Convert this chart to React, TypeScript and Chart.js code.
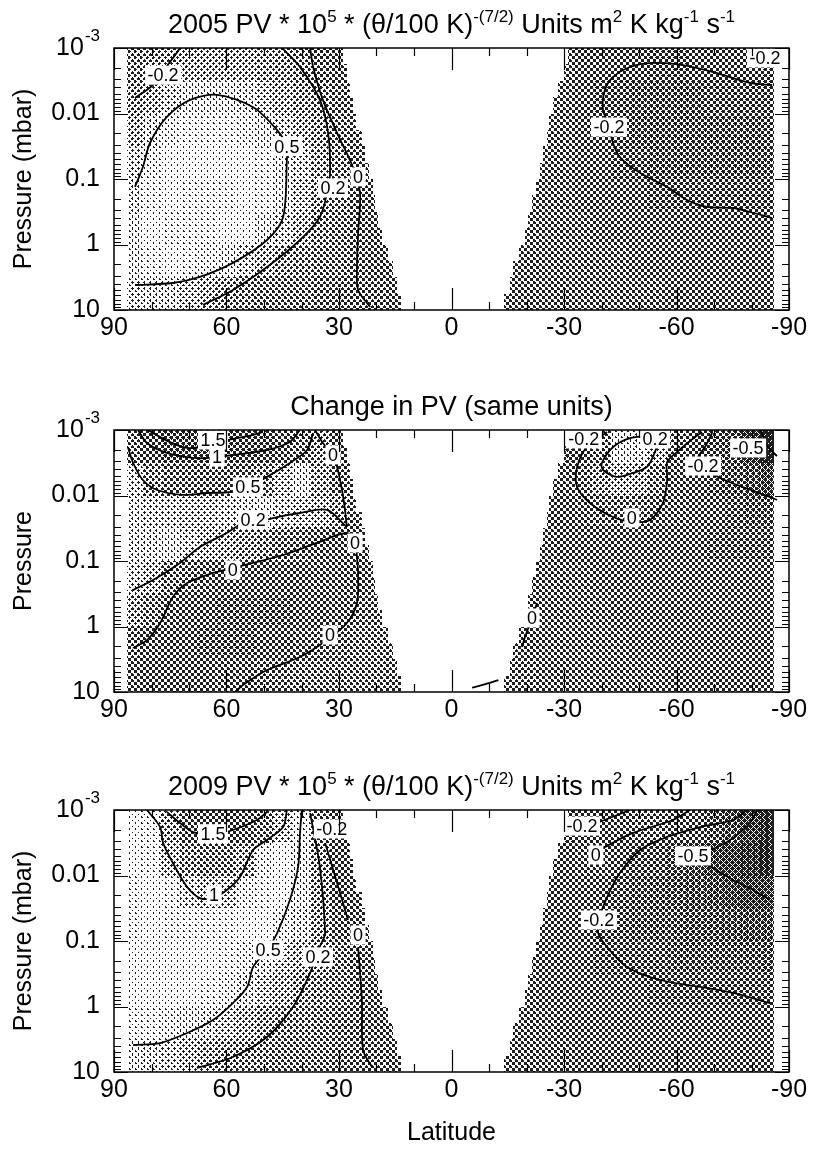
import React, { useEffect, useRef } from 'react';
import { Chart, registerables } from 'chart.js';

Chart.register(...registerables);

const FONT = '"Liberation Sans", Arial, Helvetica, sans-serif';
const W = 813;

// ---------- axes ----------
const LAT_TICKS = [90, 60, 30, 0, -30, -60, -90];
const P_TICKS = [0.001, 0.01, 0.1, 1, 10];
const P_TICK_LABELS = ['10^-3', '0.01', '0.1', '1', '10'];

// ---------- shading grid (5 deg latitude cells, half-decade pressure rows, top row = 0.001-0.0032 mbar) ----------
const CELL_LATS = [85, 80, 75, 70, 65, 60, 55, 50, 45, 40, 35, 30, 25, 20, 15, -15, -20, -25, -30, -35, -40, -45, -50, -55, -60, -65, -70, -75, -80, -85];
// data coverage per quarter-decade row (top to bottom)
const NORTH_EDGE = [29, 28, 27, 26.3, 25.5, 24, 23, 22, 21, 20.5, 19.5, 18.5, 17, 15.5, 14.5, 13.5];
const SOUTH_EDGE = [-31, -30, -28.5, -27, -26, -25.5, -24.5, -23.5, -22.5, -21.5, -20.5, -19.5, -18, -16.5, -15.5, -14];
const NORTH_LIMIT = 86.5;
const SOUTH_LIMIT = -86;

const PV2005_ROWS = [
  [0.15, 0.2, 0.25, 0.3, 0.3, 0.3, 0.28, 0.25, 0.2, 0.15, 0.02, -0.05, -0.08, -0.08, -0.08, -0.08, -0.08, -0.09, -0.1, -0.12, -0.14, -0.16, -0.18, -0.19, -0.19, -0.18, -0.18, -0.17, -0.18, -0.2],
  [0.2, 0.3, 0.4, 0.5, 0.5, 0.5, 0.45, 0.38, 0.3, 0.22, 0.12, 0.02, -0.05, -0.07, -0.07, -0.07, -0.07, -0.08, -0.1, -0.13, -0.19, -0.23, -0.26, -0.28, -0.28, -0.27, -0.25, -0.23, -0.21, -0.2],
  [0.3, 0.45, 0.55, 0.6, 0.6, 0.6, 0.58, 0.52, 0.42, 0.3, 0.22, 0.08, -0.02, -0.05, -0.06, -0.06, -0.07, -0.08, -0.1, -0.13, -0.18, -0.23, -0.27, -0.3, -0.3, -0.3, -0.28, -0.27, -0.26, -0.25],
  [0.4, 0.55, 0.65, 0.7, 0.72, 0.7, 0.65, 0.6, 0.52, 0.4, 0.25, 0.12, 0.0, -0.05, -0.06, -0.06, -0.06, -0.08, -0.1, -0.12, -0.15, -0.19, -0.22, -0.26, -0.28, -0.28, -0.28, -0.27, -0.27, -0.26],
  [0.45, 0.62, 0.75, 0.8, 0.8, 0.78, 0.72, 0.62, 0.52, 0.38, 0.22, 0.12, 0.02, -0.04, -0.05, -0.05, -0.06, -0.08, -0.1, -0.11, -0.13, -0.15, -0.17, -0.19, -0.2, -0.21, -0.22, -0.22, -0.22, -0.22],
  [0.5, 0.65, 0.78, 0.82, 0.8, 0.75, 0.65, 0.52, 0.42, 0.28, 0.15, 0.08, 0.0, -0.04, -0.05, -0.05, -0.06, -0.08, -0.09, -0.1, -0.11, -0.12, -0.13, -0.14, -0.15, -0.15, -0.16, -0.16, -0.16, -0.16],
  [0.5, 0.6, 0.65, 0.62, 0.56, 0.5, 0.4, 0.3, 0.18, 0.12, 0.08, 0.05, 0.0, -0.03, -0.05, -0.05, -0.06, -0.07, -0.08, -0.09, -0.1, -0.1, -0.11, -0.11, -0.12, -0.12, -0.13, -0.13, -0.13, -0.13],
  [0.42, 0.45, 0.45, 0.38, 0.3, 0.22, 0.15, 0.1, 0.08, 0.06, 0.04, 0.03, 0.02, -0.02, -0.04, -0.04, -0.05, -0.06, -0.07, -0.08, -0.09, -0.09, -0.1, -0.1, -0.11, -0.11, -0.12, -0.12, -0.12, -0.12],
];

const CHANGE_ROWS = [
  [0.6, 1.2, 1.55, 1.6, 1.65, 1.6, 1.5, 1.3, 1.0, 0.6, 0.1, -0.1, -0.1, -0.1, -0.1, -0.2, -0.2, -0.2, -0.2, -0.1, 0.05, 0.25, 0.28, 0.18, 0.02, -0.1, -0.18, -0.28, -0.45, -0.65],
  [0.35, 0.55, 0.72, 0.8, 0.82, 0.8, 0.72, 0.55, 0.4, 0.25, 0.12, 0.0, -0.05, -0.05, -0.05, -0.1, -0.1, -0.1, -0.06, 0.0, 0.1, 0.18, 0.15, 0.05, -0.03, -0.1, -0.18, -0.24, -0.3, -0.38],
  [0.3, 0.32, 0.35, 0.38, 0.38, 0.35, 0.3, 0.25, 0.22, 0.2, 0.18, 0.1, 0.02, 0.0, 0.0, -0.08, -0.08, -0.08, -0.08, -0.05, 0.0, 0.03, 0.03, -0.02, -0.06, -0.1, -0.13, -0.16, -0.2, -0.24],
  [0.3, 0.28, 0.25, 0.22, 0.18, 0.14, 0.1, 0.08, 0.04, 0.02, -0.01, -0.03, -0.03, -0.02, -0.02, -0.05, -0.05, -0.06, -0.07, -0.08, -0.08, -0.09, -0.1, -0.11, -0.12, -0.13, -0.14, -0.15, -0.15, -0.15],
  [0.22, 0.18, 0.05, 0.0, -0.05, -0.08, -0.1, -0.1, -0.1, -0.08, -0.06, -0.04, -0.02, 0.02, 0.02, -0.02, -0.03, -0.04, -0.05, -0.06, -0.07, -0.08, -0.09, -0.1, -0.1, -0.11, -0.12, -0.12, -0.12, -0.12],
  [0.12, 0.05, -0.02, -0.08, -0.12, -0.14, -0.15, -0.15, -0.14, -0.12, -0.08, -0.04, 0.0, 0.03, 0.03, 0.0, -0.01, -0.03, -0.04, -0.05, -0.06, -0.07, -0.08, -0.08, -0.09, -0.1, -0.1, -0.11, -0.11, -0.11],
  [0.0, -0.04, -0.08, -0.12, -0.14, -0.15, -0.14, -0.12, -0.08, -0.03, 0.0, 0.03, 0.05, 0.05, 0.04, 0.0, -0.01, -0.02, -0.03, -0.04, -0.05, -0.06, -0.07, -0.07, -0.08, -0.08, -0.09, -0.09, -0.1, -0.1],
  [-0.06, -0.08, -0.1, -0.1, -0.08, -0.05, -0.02, 0.01, 0.04, 0.06, 0.07, 0.07, 0.06, 0.05, 0.04, 0.02, 0.0, -0.01, -0.02, -0.03, -0.04, -0.05, -0.06, -0.06, -0.07, -0.07, -0.08, -0.08, -0.09, -0.09],
];

const PV2009_ROWS = [
  [0.7, 0.8, 1.1, 1.6, 1.7, 1.65, 1.55, 1.3, 1.0, 0.55, 0.1, -0.15, -0.1, -0.1, -0.1, -0.2, -0.2, -0.2, -0.2, -0.18, -0.12, -0.06, -0.02, -0.02, -0.08, -0.18, -0.28, -0.4, -0.55, -0.7],
  [0.65, 0.8, 1.05, 1.25, 1.35, 1.3, 1.1, 0.9, 0.75, 0.5, 0.2, -0.15, -0.1, -0.1, -0.1, -0.15, -0.15, -0.15, -0.12, -0.08, -0.06, -0.12, -0.2, -0.25, -0.32, -0.42, -0.5, -0.55, -0.62, -0.7],
  [0.62, 0.72, 0.85, 0.98, 1.05, 1.0, 0.9, 0.8, 0.65, 0.5, 0.22, -0.12, -0.1, -0.1, -0.1, -0.12, -0.12, -0.12, -0.12, -0.14, -0.18, -0.22, -0.26, -0.3, -0.33, -0.38, -0.42, -0.48, -0.52, -0.55],
  [0.62, 0.7, 0.78, 0.8, 0.8, 0.78, 0.72, 0.65, 0.55, 0.45, 0.22, -0.05, -0.08, -0.1, -0.1, -0.1, -0.1, -0.12, -0.14, -0.17, -0.2, -0.23, -0.26, -0.29, -0.31, -0.33, -0.35, -0.37, -0.4, -0.43],
  [0.65, 0.7, 0.72, 0.72, 0.68, 0.62, 0.55, 0.48, 0.38, 0.28, 0.18, 0.05, -0.02, -0.06, -0.06, -0.1, -0.1, -0.12, -0.14, -0.16, -0.19, -0.21, -0.23, -0.25, -0.27, -0.28, -0.29, -0.3, -0.31, -0.32],
  [0.65, 0.68, 0.68, 0.65, 0.6, 0.54, 0.46, 0.38, 0.28, 0.2, 0.12, 0.05, 0.0, -0.05, -0.05, -0.1, -0.1, -0.11, -0.12, -0.14, -0.15, -0.16, -0.18, -0.19, -0.2, -0.21, -0.21, -0.21, -0.21, -0.21],
  [0.62, 0.6, 0.56, 0.5, 0.45, 0.38, 0.3, 0.22, 0.16, 0.12, 0.08, 0.04, 0.01, -0.03, -0.05, -0.09, -0.1, -0.1, -0.11, -0.12, -0.13, -0.14, -0.15, -0.15, -0.16, -0.16, -0.17, -0.17, -0.17, -0.17],
  [0.5, 0.45, 0.4, 0.32, 0.25, 0.2, 0.15, 0.12, 0.1, 0.08, 0.05, 0.03, 0.02, -0.02, -0.04, -0.08, -0.09, -0.09, -0.1, -0.11, -0.12, -0.12, -0.13, -0.13, -0.14, -0.14, -0.15, -0.15, -0.15, -0.15],
];

// ---------- contour lines: [latitude, pressure mbar] ----------
const P1_C05 = [[84.4, 4.15], [74.3, 3.87], [67.1, 3.13], [58.3, 1.91], [49.2, 0.853], [44.9, 0.38], [43.9, 0.051], [43.9, 0.032], [46.5, 0.0179], [52.9, 0.008], [62.5, 0.0052], [69.7, 0.0062], [75.9, 0.0113], [80.4, 0.0282], [82.3, 0.0656], [84.4, 0.132]];
const P1_C02 = [[66.3, 8.39], [58.3, 4.95], [49.2, 2.21], [40.4, 0.853], [35.1, 0.38], [33.2, 0.164], [32.4, 0.081], [32.9, 0.0199], [35.1, 0.0062], [40.4, 0.00195], [45.2, 0.001]];
const P1_C0 = [[21.7, 9.0], [24.9, 4.95], [25.2, 2.21], [24.9, 0.667], [24.4, 0.164], [26.3, 0.0656], [30.5, 0.0199], [34.3, 0.0062], [36.9, 0.00195], [37.7, 0.001]];
const P1_CTL = [[84.4, 0.0058], [79.9, 0.0038], [77.7, 0.0026], [73.7, 0.00128], [72.4, 0.001]];
const P1_CS = [[-85.5, 0.00367], [-79.6, 0.00342], [-70.8, 0.00241], [-61.7, 0.00182], [-53.7, 0.00169], [-47.6, 0.00195], [-43.1, 0.00277], [-40.9, 0.00437], [-40.4, 0.00885], [-42.3, 0.0161], [-42.8, 0.0254], [-44.9, 0.0461], [-50.3, 0.081], [-57.5, 0.132], [-62.8, 0.209], [-68.1, 0.267], [-75.1, 0.277], [-79.6, 0.319], [-85.5, 0.394]];
const P1_LABELS = [[43.9, 0.032, '0.5'], [31.6, 0.137, '0.2'], [24.9, 0.093, '0'], [76.9, 0.0026, '-0.2'], [-42, 0.0161, '-0.2'], [-83.6, 0.00142, '-0.2']];

const P2_C15 = [[81, 0.001], [75.2, 0.00152], [70.5, 0.00188], [67.1, 0.00182], [63.6, 0.00164], [58.3, 0.00137], [52.9, 0.00119], [50.3, 0.00107]];
const P2_C1 = [[83.6, 0.001], [81.2, 0.00158], [75.9, 0.00224], [68.9, 0.00267], [64.4, 0.00267], [58.3, 0.00241], [49.2, 0.00202], [43.1, 0.00152], [40.4, 0.001]];
const P2_C05 = [[86.3, 0.00182], [84.9, 0.00319], [82.3, 0.0058], [78.5, 0.00824], [71.6, 0.0098], [65.2, 0.00916], [59.1, 0.00885], [54.5, 0.00741], [49.2, 0.0052], [43.1, 0.00319], [38.5, 0.00202], [36.9, 0.00111]];
const P2_C02 = [[84.9, 0.277], [79.6, 0.195], [72.4, 0.107], [67.1, 0.061], [59.9, 0.0374], [55.6, 0.0263], [52.9, 0.026], [46.5, 0.0213], [40.4, 0.0185], [33.2, 0.0166], [27.9, 0.0303]];
const P2_C0A = [[36.4, 0.001], [34.3, 0.00158], [31.6, 0.00241], [30.5, 0.00367], [29.2, 0.00824], [28.4, 0.0166], [27.9, 0.0303]];
const P2_C0B = [[84.9, 2.13], [81.2, 1.61], [77.7, 0.885], [74.3, 0.355], [70.5, 0.217], [63.6, 0.152], [58.3, 0.128], [52.9, 0.107], [44.9, 0.081], [35.9, 0.053], [27.9, 0.0374], [25.7, 0.053], [25.2, 0.0869], [24.9, 0.175], [25.2, 0.437], [27.9, 0.885], [33.2, 1.61], [40.4, 2.92], [49.2, 4.61], [55.6, 7.82], [57.7, 10]];
const P2_S02 = [[-52.9, 0.00123], [-47.6, 0.00133], [-43.1, 0.00182], [-40.1, 0.00319], [-40.4, 0.00408], [-44.1, 0.0052], [-48.4, 0.00453], [-52.1, 0.00367], [-53.7, 0.00258], [-54.8, 0.00158], [-52.9, 0.00123]];
const P2_S0 = [[-41.5, 0.00107], [-36.1, 0.00182], [-33.5, 0.00367], [-33.5, 0.00741], [-36.9, 0.013], [-43.1, 0.0213], [-48.4, 0.0254], [-52.9, 0.0237], [-56.4, 0.013], [-57.5, 0.0058], [-57.5, 0.00308], [-60.1, 0.00217], [-63.6, 0.00147], [-66.8, 0.00107]];
const P2_SM02 = [[-69.5, 0.00111], [-67.6, 0.00182], [-65.7, 0.00267], [-67.1, 0.00367], [-71.6, 0.0054], [-78.3, 0.00767], [-84.9, 0.0105], [-86.8, 0.0117]];
const P2_SM05 = [[-82.5, 0.001], [-84, 0.0017], [-86.8, 0.0025]];
const P2_SEQ = [[-22.8, 0.437], [-21.5, 0.741], [-19.6, 1.45], [-18.8, 2.06]];
const P2_SBOT = [[-5.5, 8.6], [-9, 7.6], [-12.5, 6.6]];
const P2_LABELS = [[63.6, 0.00142, '1.5'], [62.5, 0.0026, '1'], [54.3, 0.0074, '0.5'], [52.9, 0.0235, '0.2'], [58.3, 0.137, '0'], [31.6, 0.0024, '0'], [25.7, 0.053, '0'], [32.4, 1.35, '0'], [-35.3, 0.00137, '-0.2'], [-54.3, 0.00137, '0.2'], [-48.1, 0.022, '0'], [-67.1, 0.00355, '-0.2'], [-79.1, 0.00188, '-0.5'], [-21.5, 0.741, '0']];

const P3_C15 = [[75.9, 0.00107], [72.4, 0.00158], [68.9, 0.00217], [63.6, 0.00241], [58.3, 0.00202], [51.9, 0.00142], [49.2, 0.00107]];
const P3_C1 = [[81.2, 0.001], [77.7, 0.00182], [76.9, 0.00319], [74.3, 0.00644], [70.5, 0.015], [67.1, 0.0221], [63.6, 0.0221], [59.9, 0.0166], [56.4, 0.0105], [52.9, 0.00408], [49.2, 0.00287], [44.9, 0.00182], [43.9, 0.001]];
const P3_C05 = [[84.9, 3.87], [77.7, 3.61], [70.5, 2.54], [63.6, 1.61], [58.3, 0.885], [54.5, 0.503], [52.9, 0.249], [49.2, 0.137], [46.5, 0.0755], [43.1, 0.0237], [40.9, 0.00741], [40.4, 0.00224], [39.9, 0.001]];
const P3_C02 = [[67.9, 8.69], [58.3, 5.9], [49.2, 2.92], [42.3, 1.02], [37.7, 0.308], [35.9, 0.152], [34.3, 0.0966], [33.7, 0.0755], [35.1, 0.00741], [37.7, 0.00111]];
const P3_CM02 = [[33.7, 0.00319], [30.5, 0.013], [27.6, 0.0477]];
const P3_C0 = [[24.9, 0.124], [23.9, 0.796], [23.6, 4.61], [21.2, 8.39]];
const P3_SM02A = [[-38.8, 0.00158], [-47.6, 0.001]];
const P3_S0 = [[-40.4, 0.0038], [-48.4, 0.00224], [-59.1, 0.00142], [-63.6, 0.001]];
const P3_SM02 = [[-78.8, 0.001], [-75.1, 0.00142], [-66.3, 0.00182], [-57.5, 0.00258], [-50.3, 0.00408], [-44.9, 0.00916], [-41.5, 0.0213], [-39.3, 0.0477], [-39.1, 0.0755], [-41.5, 0.124], [-46.8, 0.249], [-55.6, 0.394], [-66.3, 0.503], [-75.1, 0.622], [-84.9, 0.885]];
const P3_SM05 = [[-81.5, 0.001], [-79.6, 0.00158], [-75.1, 0.00267], [-70.3, 0.0038], [-64.4, 0.00503], [-69.7, 0.00767], [-75.1, 0.0117], [-80.4, 0.0166], [-84.9, 0.0237]];
const P3_LABELS = [[63.6, 0.0023, '1.5'], [63.3, 0.0199, '1'], [48.9, 0.137, '0.5'], [35.6, 0.175, '0.2'], [31.9, 0.00195, '-0.2'], [24.9, 0.081, '0'], [-34.8, 0.00176, '-0.2'], [-38.5, 0.00486, '0'], [-39.3, 0.0477, '-0.2'], [-64.4, 0.00503, '-0.5']];

// ---------- titles ----------
const TITLE_2005 = [['2005 PV * 10', 0], ['5', 1], [' * (θ/100 K)', 0], ['-(7/2)', 1], [' Units m', 0], ['2', 1], [' K kg', 0], ['-1', 1], [' s', 0], ['-1', 1]];
const TITLE_CHANGE = [['Change in PV (same units)', 0]];
const TITLE_2009 = [['2009 PV * 10', 0], ['5', 1], [' * (θ/100 K)', 0], ['-(7/2)', 1], [' Units m', 0], ['2', 1], [' K kg', 0], ['-1', 1], [' s', 0], ['-1', 1]];

// ---------- grey scale (value -> lightness) ----------
const CMAP_PV = [[-0.75, 0.12], [-0.5, 0.3], [-0.3, 0.44], [-0.15, 0.5], [0, 0.55], [0.15, 0.61], [0.3, 0.7], [0.5, 0.83], [0.7, 0.93], [0.9, 0.86], [1.1, 0.66], [1.4, 0.56], [1.7, 0.5]];
const CMAP_CHANGE = [[-0.6, 0.08], [-0.45, 0.22], [-0.3, 0.4], [-0.15, 0.48], [-0.05, 0.52], [0.05, 0.57], [0.15, 0.7], [0.25, 0.82], [0.4, 0.74], [0.6, 0.58], [1.0, 0.52], [1.5, 0.46], [1.7, 0.42]];

function lightness(cmap: number[][], v: number) {
  if (v <= cmap[0][0]) return cmap[0][1];
  for (let i = 1; i < cmap.length; i++) {
    if (v <= cmap[i][0]) {
      const [a, la] = cmap[i - 1];
      const [b, lb] = cmap[i];
      return la + ((v - a) / (b - a)) * (lb - la);
    }
  }
  return cmap[cmap.length - 1][1];
}

// halftone dot order on a 6x6 45-degree screen
const DOT_ORDER: number[] = (() => {
  const pts: { i: number; d: number }[] = [];
  for (let y = 0; y < 6; y++) {
    for (let x = 0; x < 6; x++) {
      const u = (x + y) % 6;
      const v = (x - y + 6) % 6;
      const du = Math.min(u, 6 - u);
      const dv = Math.min(v, 6 - v);
      pts.push({ i: y * 6 + x, d: du * du + dv * dv + ((x * 5 + y * 3) % 7) * 0.01 });
    }
  }
  pts.sort((a, b) => a.d - b.d);
  return pts.map((p) => p.i);
})();

const patternCache = new WeakMap<CanvasRenderingContext2D, Map<number, CanvasPattern>>();
function patternFor(ctx: CanvasRenderingContext2D, light: number) {
  const n = Math.max(0, Math.min(36, Math.round((1 - light) * 36)));
  let m = patternCache.get(ctx);
  if (!m) {
    m = new Map();
    patternCache.set(ctx, m);
  }
  const hit = m.get(n);
  if (hit) return hit;
  const c = document.createElement('canvas');
  c.width = 6;
  c.height = 6;
  const g = c.getContext('2d')!;
  const img = g.createImageData(6, 6);
  for (let k = 0; k < 36; k++) {
    const idx = DOT_ORDER[k] * 4;
    const val = k < n ? 30 : 255;
    img.data[idx] = val;
    img.data[idx + 1] = val;
    img.data[idx + 2] = val;
    img.data[idx + 3] = 255;
  }
  g.putImageData(img, 0, 0);
  const p = ctx.createPattern(c, 'repeat')!;
  m.set(n, p);
  return p;
}

function drawParts(ctx: CanvasRenderingContext2D, parts: any[], cx: number, baseline: number, size: number) {
  const sup = Math.round(size * 0.62);
  let total = 0;
  const widths = parts.map(([t, s]) => {
    ctx.font = `${s ? sup : size}px ${FONT}`;
    const w = ctx.measureText(t).width;
    total += w;
    return w;
  });
  let x = cx - total / 2;
  ctx.textAlign = 'left';
  ctx.textBaseline = 'alphabetic';
  parts.forEach(([t, s], i) => {
    ctx.font = `${s ? sup : size}px ${FONT}`;
    ctx.fillText(t, x, s ? baseline - size * 0.42 : baseline);
    x += widths[i];
  });
}

type PanelProps = {
  top: number;
  height: number;
  padTop: number;
  padBottom: number;
  rows: number[][];
  cmap: number[][];
  contours: number[][][];
  labels: any[];
  title: any[];
  yTitle: string;
  xTitle?: string;
};

function Panel(props: PanelProps) {
  const ref = useRef<HTMLCanvasElement>(null);
  useEffect(() => {
    const { rows, cmap, contours, labels, title, yTitle, xTitle, padTop, padBottom } = props;

    const shade = {
      id: 'shade',
      beforeDatasetsDraw(chart: any) {
        const { ctx, chartArea: a, scales } = chart;
        const xs = scales.x;
        const ys = scales.y;
        ctx.save();
        ctx.beginPath();
        ctx.rect(a.left, a.top, a.right - a.left, a.bottom - a.top);
        ctx.clip();
        for (let q = 0; q < 16; q++) {
          const r = Math.floor(q / 2);
          const pTop = Math.pow(10, -3 + q / 4);
          const pBot = Math.pow(10, -3 + (q + 1) / 4);
          const y0 = Math.round(ys.getPixelForValue(pTop));
          const y1 = Math.round(ys.getPixelForValue(pBot));
          CELL_LATS.forEach((c, j) => {
            let hi = c + 2.5;
            let lo = c - 2.5;
            if (c > 0) {
              hi = Math.min(hi, NORTH_LIMIT);
              lo = Math.max(lo, NORTH_EDGE[q]);
            } else {
              hi = Math.min(hi, SOUTH_EDGE[q]);
              lo = Math.max(lo, SOUTH_LIMIT);
            }
            if (hi <= lo) return;
            const xa = Math.round(xs.getPixelForValue(hi));
            const xb = Math.round(xs.getPixelForValue(lo));
            ctx.fillStyle = patternFor(ctx, lightness(cmap, rows[r][j]));
            ctx.fillRect(Math.min(xa, xb), y0, Math.abs(xb - xa), y1 - y0);
          });
        }
        ctx.restore();
      },
    };

    const decor = {
      id: 'decor',
      afterDatasetsDraw(chart: any) {
        const { ctx, chartArea: a, scales } = chart;
        const xs = scales.x;
        const ys = scales.y;
        ctx.save();
        // contour labels
        ctx.font = `18px ${FONT}`;
        ctx.textAlign = 'center';
        ctx.textBaseline = 'middle';
        for (const [lat, p, t] of labels) {
          const x = xs.getPixelForValue(lat);
          const y = ys.getPixelForValue(p);
          const w = ctx.measureText(t).width + 5;
          const h = 19;
          ctx.fillStyle = '#fff';
          ctx.fillRect(x - w / 2, y - h / 2, w, h);
          ctx.fillStyle = '#000';
          ctx.fillText(t, x, y + 1);
        }
        // inward ticks
        ctx.strokeStyle = '#000';
        ctx.lineWidth = 1.2;
        ctx.beginPath();
        for (let lat = -90; lat <= 90; lat += 10) {
          const x = Math.round(xs.getPixelForValue(lat)) + 0.5;
          const len = lat % 30 === 0 ? 22 : 8;
          ctx.moveTo(x, a.bottom);
          ctx.lineTo(x, a.bottom - len);
          ctx.moveTo(x, a.top);
          ctx.lineTo(x, a.top + len);
        }
        for (let n = -3; n <= 1; n++) {
          for (let k = 1; k <= 9; k++) {
            const v = k * Math.pow(10, n);
            if (v > 10.0001) break;
            const y = Math.round(ys.getPixelForValue(v)) + 0.5;
            const len = k === 1 ? 14 : 7;
            ctx.moveTo(a.left, y);
            ctx.lineTo(a.left + len, y);
            ctx.moveTo(a.right, y);
            ctx.lineTo(a.right - len, y);
          }
        }
        ctx.stroke();
        ctx.lineWidth = 1.5;
        ctx.strokeRect(a.left, a.top, a.right - a.left, a.bottom - a.top);
        ctx.restore();
      },
      afterDraw(chart: any) {
        const { ctx, chartArea: a, scales } = chart;
        const ys = scales.y;
        ctx.save();
        ctx.fillStyle = '#000';
        drawParts(ctx, title, (a.left + a.right) / 2, a.top - 15, 27);
        // exponent tick label
        const [base, exp] = P_TICK_LABELS[0].split('^');
        const yTop = ys.getPixelForValue(P_TICKS[0]);
        ctx.font = `17px ${FONT}`;
        const we = ctx.measureText(exp).width;
        const xEnd = a.left - 14;
        ctx.textAlign = 'right';
        ctx.textBaseline = 'middle';
        ctx.fillText(exp, xEnd, yTop - 12);
        ctx.font = `25px ${FONT}`;
        ctx.fillText(base, xEnd - we - 1, yTop);
        // axis titles
        ctx.save();
        ctx.translate(24, (a.top + a.bottom) / 2);
        ctx.rotate(-Math.PI / 2);
        ctx.textAlign = 'center';
        ctx.textBaseline = 'middle';
        ctx.font = `25px ${FONT}`;
        ctx.fillText(yTitle, 0, 0);
        ctx.restore();
        if (xTitle) {
          ctx.textAlign = 'center';
          ctx.textBaseline = 'middle';
          ctx.font = `25px ${FONT}`;
          ctx.fillText(xTitle, (a.left + a.right) / 2, a.bottom + 61);
        }
        ctx.restore();
      },
    };

    const chart = new Chart(ref.current!, {
      type: 'scatter',
      data: {
        datasets: contours.map((c) => ({
          data: c.map(([lat, p]) => ({ x: lat, y: p })),
          showLine: true,
          borderColor: '#000',
          borderWidth: 1.8,
          pointRadius: 0,
          tension: 0.3,
          fill: false,
        })),
      },
      options: {
        animation: false,
        responsive: false,
        events: [],
        layout: { padding: { top: padTop, right: 24, bottom: padBottom, left: 0 } },
        plugins: { legend: { display: false }, tooltip: { enabled: false }, title: { display: false } },
        scales: {
          x: {
            type: 'linear',
            min: -90,
            max: 90,
            reverse: true,
            afterBuildTicks: (s: any) => {
              s.ticks = LAT_TICKS.map((v) => ({ value: v }));
            },
            afterFit: (s: any) => {
              s.height = 40;
            },
            grid: { display: false, drawTicks: false },
            border: { display: false },
            ticks: {
              font: { family: FONT, size: 25 },
              color: '#000',
              padding: 3,
              maxRotation: 0,
              autoSkip: false,
              callback: (v: any) => String(v),
            },
          },
          y: {
            type: 'logarithmic',
            min: 0.001,
            max: 10,
            reverse: true,
            afterBuildTicks: (s: any) => {
              s.ticks = P_TICKS.map((v) => ({ value: v }));
            },
            afterFit: (s: any) => {
              s.width = 114;
            },
            grid: { display: false, drawTicks: false },
            border: { display: false },
            ticks: {
              font: { family: FONT, size: 25 },
              color: '#000',
              padding: 14,
              autoSkip: false,
              callback: (_v: any, i: number) => (i === 0 ? '' : P_TICK_LABELS[i]),
            },
          },
        },
      } as any,
      plugins: [shade, decor],
    } as any);
    return () => chart.destroy();
  }, []);
  return (
    <canvas
      ref={ref}
      width={W}
      height={props.height}
      style={{ position: 'absolute', left: 0, top: props.top, display: 'block' }}
    />
  );
}

export default function App() {
  return (
    <div style={{ position: 'absolute', left: 0, top: 0, width: W, height: 1150, background: '#fff' }}>
      <Panel
        top={0}
        height={380}
        padTop={48}
        padBottom={30}
        rows={PV2005_ROWS}
        cmap={CMAP_PV}
        contours={[P1_C05, P1_C02, P1_C0, P1_CTL, P1_CS]}
        labels={P1_LABELS}
        title={TITLE_2005}
        yTitle="Pressure (mbar)"
      />
      <Panel
        top={380}
        height={380}
        padTop={50}
        padBottom={28}
        rows={CHANGE_ROWS}
        cmap={CMAP_CHANGE}
        contours={[P2_C15, P2_C1, P2_C05, P2_C02, P2_C0A, P2_C0B, P2_S02, P2_S0, P2_SM02, P2_SM05, P2_SEQ, P2_SBOT]}
        labels={P2_LABELS}
        title={TITLE_CHANGE}
        yTitle="Pressure"
      />
      <Panel
        top={760}
        height={390}
        padTop={50}
        padBottom={38}
        rows={PV2009_ROWS}
        cmap={CMAP_PV}
        contours={[P3_C15, P3_C1, P3_C05, P3_C02, P3_CM02, P3_C0, P3_SM02A, P3_S0, P3_SM02, P3_SM05]}
        labels={P3_LABELS}
        title={TITLE_2009}
        yTitle="Pressure (mbar)"
        xTitle="Latitude"
      />
    </div>
  );
}
